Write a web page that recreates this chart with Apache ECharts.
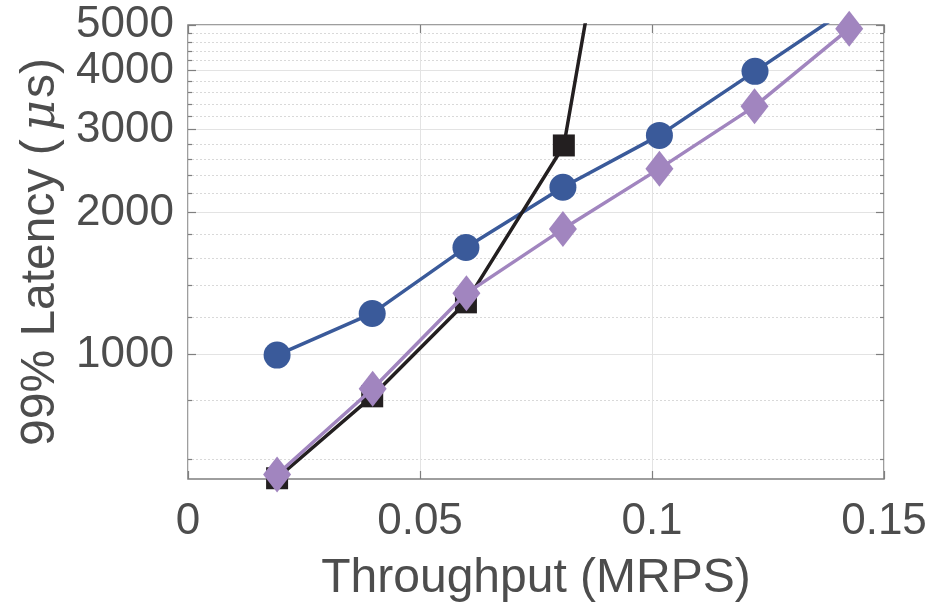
<!DOCTYPE html>
<html>
<head>
<meta charset="utf-8">
<script src="https://cdn.jsdelivr.net/npm/echarts@6/dist/echarts.min.js"></script>
<style>html,body{margin:0;padding:0;background:#fff;}#c{width:936px;height:612px;}</style>
</head>
<body>
<div id="c"></div>
<script>
// ---- data ----
const xTicks = [0, 0.05, 0.1, 0.15];
const yMajorTicks = [1000, 2000, 3000, 4000, 5000];
const yMinorTicks = [600, 800, 1200, 1400, 1600, 1800, 2200, 2400, 2600, 2800, 3200, 3400, 3600, 3800, 4200, 4400, 4600, 4800];

const blueX = [0.0192, 0.0397, 0.0599, 0.0808, 0.1016, 0.1222, 0.1427];
const blueY = [998, 1223, 1688, 2265, 2917, 3987, 5450];

const blackX = [0.0192, 0.0397, 0.0599, 0.0810, 0.0900];
const blackY = [547, 816, 1291, 2777, 8900];

const purpleX = [0.0192, 0.0398, 0.0600, 0.0808, 0.1016, 0.1221, 0.1425];
const purpleY = [557, 847, 1349, 1846, 2480, 3361, 4911];

const pair = (xs, ys) => xs.map((x, i) => [x, ys[i]]);

const txt = '#4d4d4d';
const font = 'Liberation Sans, Arial, Helvetica, sans-serif';
const yMin = 545, yMax = 5000;

const chart = echarts.init(document.getElementById('c'), null, {renderer: 'canvas'});
chart.setOption({
  animation: false,
  backgroundColor: '#ffffff',
  grid: {left: 188, right: 52, top: 25, bottom: 133, show: true, borderColor: '#7f7f7f', borderWidth: 1.5, backgroundColor: 'transparent'},
  xAxis: [{
    type: 'value', min: 0, max: 0.15, interval: 0.05, position: 'bottom',
    name: 'Throughput (MRPS)', nameLocation: 'middle', nameGap: 76,
    nameTextStyle: {fontSize: 48, color: txt, fontFamily: font},
    axisLine: {show: false},
    axisTick: {show: true, inside: true, length: 8, lineStyle: {color: '#7f7f7f', width: 1.2}},
    axisLabel: {fontSize: 44, color: txt, fontFamily: font, margin: 21,
      customValues: xTicks, formatter: v => String(v)},
    splitLine: {show: true, lineStyle: {color: '#e3e3e3', width: 1}}
  }, {
    type: 'value', min: 0, max: 0.15, interval: 0.05, position: 'top',
    axisLine: {show: false}, axisLabel: {show: false}, splitLine: {show: false},
    axisTick: {show: true, inside: true, length: 8, lineStyle: {color: '#7f7f7f', width: 1.2}}
  }],
  yAxis: [{
    type: 'log', logBase: 10, min: yMin, max: yMax, position: 'left',
    name: '{n|99% Latency (}{i|μ}{n|s)}', nameLocation: 'middle', nameGap: 118, nameRotate: 90,
    nameTextStyle: {rich: {
      n: {fontSize: 48, color: txt, fontFamily: font},
      i: {fontSize: 48, color: txt, fontFamily: 'DejaVu Serif, serif', fontStyle: 'italic', padding: [0, 2, 0, 8]}
    }},
    axisLine: {show: false},
    axisTick: {show: true, inside: true, length: 8, customValues: yMajorTicks, lineStyle: {color: '#7f7f7f', width: 1.2}},
    axisLabel: {fontSize: 44, color: txt, fontFamily: font, margin: 14, customValues: yMajorTicks, formatter: v => String(Math.round(v))},
    splitLine: {show: true, lineStyle: {color: '#e3e3e3', width: 1}},
    minorTick: {show: false}, minorSplitLine: {show: false}
  }, {
    type: 'log', logBase: 10, min: yMin, max: yMax, position: 'left',
    axisLine: {show: false}, axisLabel: {show: false},
    axisTick: {show: true, inside: true, length: 4, customValues: yMinorTicks, lineStyle: {color: '#7f7f7f', width: 1.2}},
    splitLine: {show: true, lineStyle: {color: '#d9d9d9', width: 1, type: [2, 2]}}
  }, {
    type: 'log', logBase: 10, min: yMin, max: yMax, position: 'right',
    axisLine: {show: false}, axisLabel: {show: false}, splitLine: {show: false},
    axisTick: {show: true, inside: true, length: 8, customValues: yMajorTicks, lineStyle: {color: '#7f7f7f', width: 1.2}}
  }, {
    type: 'log', logBase: 10, min: yMin, max: yMax, position: 'right',
    axisLine: {show: false}, axisLabel: {show: false}, splitLine: {show: false},
    axisTick: {show: true, inside: true, length: 4, customValues: yMinorTicks, lineStyle: {color: '#7f7f7f', width: 1.2}}
  }],
  series: [{
    name: 'blue', type: 'line', xAxisIndex: 0, yAxisIndex: 0, data: pair(blueX, blueY),
    symbol: 'circle', symbolSize: 27, showAllSymbol: true,
    lineStyle: {color: '#3a5a9a', width: 3.5}, itemStyle: {color: '#3a5a9a'}, z: 3
  }, {
    name: 'black', type: 'line', xAxisIndex: 0, yAxisIndex: 0, data: pair(blackX, blackY),
    symbol: 'rect', symbolSize: 22, showAllSymbol: true,
    lineStyle: {color: '#231f20', width: 3.5}, itemStyle: {color: '#231f20'}, z: 4
  }, {
    name: 'purple', type: 'line', xAxisIndex: 0, yAxisIndex: 0, data: pair(purpleX, purpleY),
    symbol: 'diamond', symbolSize: [28, 36], showAllSymbol: true,
    lineStyle: {color: '#a185bf', width: 3.5}, itemStyle: {color: '#a185bf'}, z: 5
  }]
});
</script>
</body>
</html>
